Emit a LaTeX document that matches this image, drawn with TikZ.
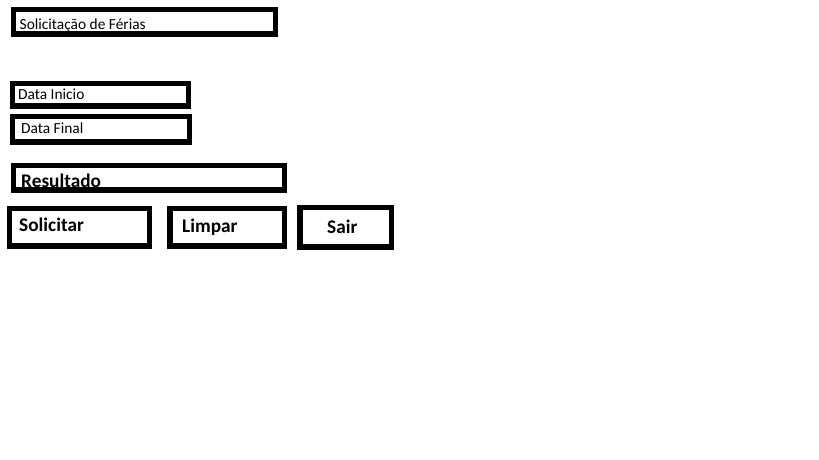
\documentclass[tikz,border=0pt]{standalone}
\usepackage{fontspec}
\setmainfont{Carlito}
\begin{document}
\begin{tikzpicture}[x=1bp,y=-1bp,
  box/.style={draw=black,line width=5.5bp,fill=white,inner sep=0pt,rectangle},
  lbl/.style={inner sep=0pt,anchor=base west,font=\fontsize{15.4bp}{17bp}\selectfont},
  blbl/.style={inner sep=0pt,anchor=base west,font=\fontsize{19.3bp}{21bp}\selectfont\bfseries}]
\useasboundingbox (0,0) rectangle (819,460);
\node[box,minimum width=261.5bp,minimum height=24.5bp] (titlebox) at (144.5,22) {};
\node[box,minimum width=175.5bp,minimum height=22.5bp] (inibox) at (100.5,95) {};
\node[box,minimum width=176.5bp,minimum height=25.5bp] (finbox) at (101,129.5) {};
\node[box,minimum width=270.5bp,minimum height=24.5bp] (resbox) at (149,178) {};
\node[box,minimum width=139.5bp,minimum height=37.5bp] (solbox) at (79.5,227.5) {};
\node[box,minimum width=114.5bp,minimum height=37.5bp] (limbox) at (227,227.5) {};
\node[box,minimum width=91.5bp,minimum height=39.5bp] (saibox) at (345.5,227.5) {};
\node[lbl] (title) at (19.5,29.5) {Solicitação de Férias};
\node[lbl] (ini) at (18,100) {Data Inicio};
\node[lbl] (fin) at (21,134) {Data Final};
\node[blbl] (res) at (21,187.5) {Resultado};
\node[blbl] (sol) at (19,232) {Solicitar};
\node[blbl] (lim) at (182,233) {Limpar};
\node[blbl] (sai) at (327,233.5) {Sair};
\end{tikzpicture}
\end{document}
